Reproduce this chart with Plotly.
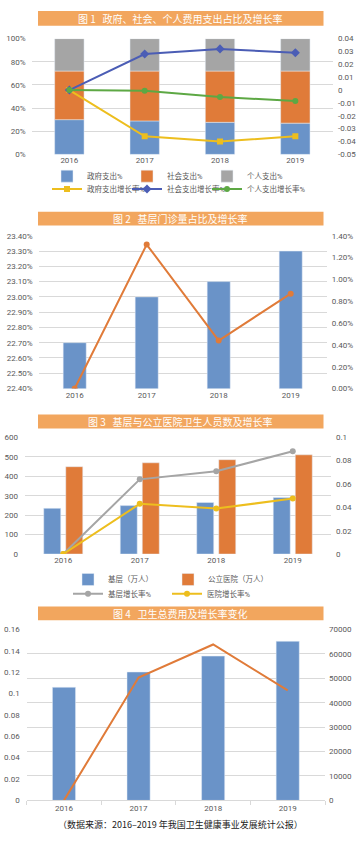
import plotly.graph_objects as go

# ---------------- data ----------------
years = ['2016', '2017', '2018', '2019']

# Fig 1: shares (%) and growth rates
gov_share = [30.0, 28.9, 27.7, 27.0]
social_share = [42.0, 43.1, 44.3, 45.0]
personal_share = [28.0, 28.0, 28.0, 28.0]
gov_growth = [0.0, -0.036, -0.040, -0.036]
social_growth = [0.0, 0.028, 0.032, 0.029]
personal_growth = [0.0, -0.0005, -0.0054, -0.0085]
fig1_left_vals = [0, 20, 40, 60, 80, 100]
fig1_left_text = ['0%', '20%', '40%', '60%', '80%', '100%']
fig1_right_vals = [-0.05, -0.04, -0.03, -0.02, -0.01, 0, 0.01, 0.02, 0.03, 0.04]
fig1_right_text = ['-0.05', '-0.04', '-0.03', '-0.02', '-0.01', '0', '0.01', '0.02', '0.03', '0.04']

# Fig 2: primary-care outpatient share (%) and growth (%)
outpatient_share = [22.70, 23.00, 23.10, 23.30]
outpatient_growth = [0.00, 1.32, 0.44, 0.87]
fig2_left_vals = [22.4, 22.5, 22.6, 22.7, 22.8, 22.9, 23.0, 23.1, 23.2, 23.3, 23.4]
fig2_left_text = ['22.40%', '22.50%', '22.60%', '22.70%', '22.80%', '22.90%',
                  '23.00%', '23.10%', '23.20%', '23.30%', '23.40%']
fig2_right_vals = [0, 0.2, 0.4, 0.6, 0.8, 1.0, 1.2, 1.4]
fig2_right_text = ['0.00%', '0.20%', '0.40%', '0.60%', '0.80%', '1.00%', '1.20%', '1.40%']

# Fig 3: staff (10k persons) and growth
primary_staff = [235, 249, 265, 291]
hospital_staff = [449, 469, 485, 510]
primary_growth = [0.0, 0.064, 0.071, 0.088]
hospital_growth = [0.0, 0.043, 0.039, 0.0475]
fig3_left_vals = [0, 100, 200, 300, 400, 500, 600]
fig3_left_text = ['0', '100', '200', '300', '400', '500', '600']
fig3_right_vals = [0, 0.02, 0.04, 0.06, 0.08, 0.1]
fig3_right_text = ['0', '0.02', '0.04', '0.06', '0.08', '0.1']

# Fig 4: total health expenditure and growth
total_expense = [46345, 52598, 59122, 65196]
expense_growth = [0.0, 0.115, 0.146, 0.103]
fig4_left_vals = [0, 0.02, 0.04, 0.06, 0.08, 0.1, 0.12, 0.14, 0.16]
fig4_left_text = ['0', '0.02', '0.04', '0.06', '0.08', '0.1', '0.12', '0.14', '0.16']
fig4_right_vals = [0, 10000, 20000, 30000, 40000, 50000, 60000, 70000]
fig4_right_text = ['0', '10000', '20000', '30000', '40000', '50000', '60000', '70000']

titles = ['图 1   政府、社会、个人费用支出占比及增长率',
          '图 2   基层门诊量占比及增长率',
          '图 3   基层与公立医院卫生人员数及增长率',
          '图 4   卫生总费用及增长率变化']
footer = '（数据来源：2016–2019 年我国卫生健康事业发展统计公报）'

# ---------------- style ----------------
W, H = 360, 842
BLUE = '#6A93C8'
ORANGE = '#E07B39'
GRAY = '#A5A5A5'
YELLOW = '#EDBE1E'
LBLUE = '#4B5DB5'
GREEN = '#5DA844'
TITLE_BG = '#F2A65E'
TICK = '#595959'
GRID = '#D9D9D9'
FONT = 'Roboto, "Noto Sans CJK SC", sans-serif'
CJK = '"Noto Sans CJK SC", sans-serif'


def px(x):
    return x / W


def py(y):
    return 1 - y / H


fig = go.Figure()

# ---- Fig 1 ----
base_social = [g for g in gov_share]
base_personal = [g + s for g, s in zip(gov_share, social_share)]
fig.add_trace(go.Bar(x=years, y=gov_share, base=[0] * 4, name='政府支出%', marker_color=BLUE,
                     width=0.39, xaxis='x', yaxis='y', legend='legend'))
fig.add_trace(go.Bar(x=years, y=social_share, base=base_social, name='社会支出%', marker_color=ORANGE,
                     width=0.39, xaxis='x', yaxis='y', legend='legend2'))
fig.add_trace(go.Bar(x=years, y=personal_share, base=base_personal, name='个人支出%', marker_color=GRAY,
                     width=0.39, xaxis='x', yaxis='y', legend='legend3'))
fig.add_trace(go.Scatter(x=years, y=gov_growth, name='政府支出增长率%', mode='lines+markers',
                         line=dict(color=YELLOW, width=2), marker=dict(symbol='square', size=6),
                         xaxis='x', yaxis='y2', legend='legend4'))
fig.add_trace(go.Scatter(x=years, y=social_growth, name='社会支出增长率%', mode='lines+markers',
                         line=dict(color=LBLUE, width=2), marker=dict(symbol='diamond', size=7),
                         xaxis='x', yaxis='y2', legend='legend5'))
fig.add_trace(go.Scatter(x=years, y=personal_growth, name='个人支出增长率%', mode='lines+markers',
                         line=dict(color=GREEN, width=2), marker=dict(symbol='circle', size=6),
                         xaxis='x', yaxis='y2', legend='legend6'))

# ---- Fig 2 ----
fig.add_trace(go.Bar(x=years, y=outpatient_share, marker_color=BLUE, width=0.32,
                     xaxis='x2', yaxis='y3', showlegend=False))
fig.add_trace(go.Scatter(x=years, y=outpatient_growth, mode='lines+markers',
                         line=dict(color=ORANGE, width=2), marker=dict(symbol='circle', size=6),
                         xaxis='x2', yaxis='y4', showlegend=False))

# ---- Fig 3 ----
fig.add_trace(go.Bar(x=years, y=primary_staff, name='基层（万人）', marker_color=BLUE,
                     width=0.222, offset=-0.255, xaxis='x3', yaxis='y5', legend='legend7'))
fig.add_trace(go.Bar(x=years, y=hospital_staff, name='公立医院（万人）', marker_color=ORANGE,
                     width=0.222, offset=0.033, xaxis='x3', yaxis='y5', legend='legend8'))
fig.add_trace(go.Scatter(x=years, y=primary_growth, name='基层增长率%', mode='lines+markers',
                         line=dict(color=GRAY, width=2), marker=dict(symbol='circle', size=6),
                         xaxis='x3', yaxis='y6', legend='legend9'))
fig.add_trace(go.Scatter(x=years, y=hospital_growth, name='医院增长率%', mode='lines+markers',
                         line=dict(color=YELLOW, width=2), marker=dict(symbol='circle', size=6),
                         xaxis='x3', yaxis='y6', legend='legend10'))

# ---- Fig 4 ----
fig.add_trace(go.Bar(x=years, y=total_expense, marker_color=BLUE, width=0.31,
                     xaxis='x4', yaxis='y7', showlegend=False))
fig.add_trace(go.Scatter(x=years, y=expense_growth, mode='lines',
                         line=dict(color=ORANGE, width=2),
                         xaxis='x4', yaxis='y8', showlegend=False))

tickfont = dict(family=FONT, size=8, color=TICK)


def xax(domain, anchor, **kw):
    d = dict(domain=domain, anchor=anchor, type='category', range=[-0.5, 3.5],
             showgrid=False, zeroline=False, showline=False, ticks='',
             tickfont=tickfont, fixedrange=True)
    d.update(kw)
    return d


def yax(domain, anchor, rng, vals, text, side='left', grid=True, overlaying=None, standoff=4):
    d = dict(domain=domain, anchor=anchor, range=rng, tickvals=vals, ticktext=text,
             side=side, showgrid=grid, gridcolor=GRID, gridwidth=1, zeroline=False,
             showline=False, ticks='', tickfont=tickfont, fixedrange=True,
             ticklabelstandoff=standoff)
    if overlaying:
        d['overlaying'] = overlaying
    return d


layout = dict(
    width=W, height=H, margin=dict(l=0, r=0, t=0, b=0),
    paper_bgcolor='white', plot_bgcolor='white',
    barmode='overlay', font=dict(family=FONT, size=8, color=TICK),
    xaxis=xax([px(31.7), px(333)], 'y'),
    yaxis=yax([py(152), py(35)], 'x', [0, 100], fig1_left_vals, fig1_left_text, standoff=5),
    yaxis2=yax([py(152), py(35)], 'x', [-0.05, 0.04], fig1_right_vals, fig1_right_text,
               side='right', grid=False, overlaying='y', standoff=4),
    xaxis2=xax([px(38.7), px(326.7)], 'y3'),
    yaxis3=yax([py(388.7), py(234.3)], 'x2', [22.4, 23.4], fig2_left_vals, fig2_left_text, standoff=5),
    yaxis4=yax([py(388.7), py(234.3)], 'x2', [0, 1.4], fig2_right_vals, fig2_right_text,
               side='right', grid=False, overlaying='y3', standoff=4),
    xaxis3=xax([px(25), px(331)], 'y5'),
    yaxis5=yax([py(556), py(438)], 'x3', [0, 600], fig3_left_vals, fig3_left_text, standoff=6),
    yaxis6=yax([py(556), py(438)], 'x3', [0, 0.1], fig3_right_vals, fig3_right_text,
               side='right', grid=False, overlaying='y5', standoff=4),
    xaxis4=xax([px(26.7), px(325)], 'y7', showline=True, linecolor=GRID, linewidth=1,
               ticks='outside', tickson='boundaries', ticklen=4, tickcolor=GRID),
    yaxis7=yax([py(805), py(632.3)], 'x4', [0, 70000], fig4_right_vals, fig4_right_text,
               side='right', grid=True, standoff=3),
    yaxis8=yax([py(805), py(632.3)], 'x4', [0, 0.16], fig4_left_vals, fig4_left_text,
               side='left', grid=False, overlaying='y7', standoff=6),
)

# legends: one entry each, placed at the reference positions
legend_pos = {
    'legend': (87, 174), 'legend2': (167, 174), 'legend3': (247, 174),
    'legend4': (87, 187), 'legend5': (167, 187), 'legend6': (247, 187),
    'legend7': (108, 581.7), 'legend8': (208, 581.7),
    'legend9': (108, 596), 'legend10': (207, 596),
}
for name, (tx, ty) in legend_pos.items():
    layout[name] = dict(x=px(tx - 40), y=py(ty), xanchor='left', yanchor='middle',
                        orientation='h', bgcolor='rgba(0,0,0,0)', borderwidth=0,
                        itemwidth=30, tracegroupgap=0,
                        font=dict(family=FONT, size=7.5, color=TICK))

fig.update_layout(**layout)

# title bars
bars = [(7, 22), (210, 224), (415, 429), (609, 623)]
for (y0, y1), t in zip(bars, titles):
    fig.add_shape(type='rect', xref='paper', yref='paper', x0=px(38), x1=px(323.5),
                  y0=py(y1), y1=py(y0), fillcolor=TITLE_BG, line_width=0, layer='below')
    fig.add_annotation(text=t, xref='paper', yref='paper', x=0.5, y=py((y0 + y1) / 2),
                       xanchor='center', yanchor='middle', showarrow=False,
                       font=dict(family=CJK, size=10, color='white'))

fig.add_annotation(text=footer, xref='paper', yref='paper', x=px(180), y=py(829),
                   xanchor='center', yanchor='middle', showarrow=False,
                   font=dict(family=CJK, size=9, color='#222222'))

fig.write_html('out.html', config={'displayModeBar': False},
               post_script="document.body.style.margin='0px';document.body.style.overflow='hidden';")
